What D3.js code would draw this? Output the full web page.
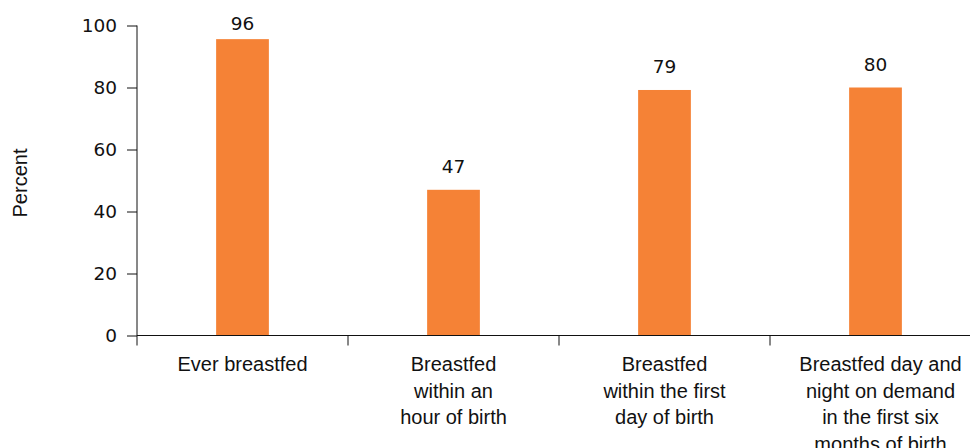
<!DOCTYPE html>
<html>
<head>
<meta charset="utf-8">
<script src="https://cdn.jsdelivr.net/npm/d3@7"></script>
<style>
  html, body { margin: 0; padding: 0; background: #fff; }
  svg { display: block; }
  text { font-family: "Liberation Sans", Arial, sans-serif; fill: #111; }
</style>
</head>
<body>
<svg id="chart" width="970" height="448"></svg>
<script>
const categories = [
  "Ever breastfed",
  "Breastfed\nwithin an\nhour of birth",
  "Breastfed\nwithin the first\nday of birth",
  "Breastfed day and\nnight on demand\nin the first six\nmonths of birth"
];
const values = [95.6, 47, 79.2, 80];
const valueLabels = ["96", "47", "79", "80"];
const yTicks = [0, 20, 40, 60, 80, 100];
const yTitle = "Percent";

const svg = d3.select("#chart");
const numFont = "'DejaVu Sans', Verdana, sans-serif";
const x = d3.scaleBand().domain(d3.range(categories.length)).range([137, 137 + 4 * 211]).padding(0);
const y = d3.scaleLinear().domain([0, 100]).range([335.5, 25.5]);

const barW = x.bandwidth() * 0.25;

// bars
svg.append("g").selectAll("rect").data(values).join("rect")
  .attr("x", (d, i) => x(i) + x.bandwidth() / 2 - barW / 2)
  .attr("y", d => y(d))
  .attr("width", barW)
  .attr("height", d => y(0) - y(d))
  .attr("fill", "#F58236");

// y axis
const yAxis = svg.append("g").attr("transform", "translate(137,0)")
  .call(d3.axisLeft(y).tickValues(yTicks).tickSize(10).tickPadding(10).tickFormat(d3.format("d")));
yAxis.select(".domain").remove();
yAxis.selectAll(".tick line").attr("stroke", "#111");
yAxis.selectAll(".tick text").style("font-size", "18.5px").attr("fill", "#111")
  .style("font-family", numFont);
svg.append("line").attr("x1", 137).attr("x2", 137).attr("y1", y(100)).attr("y2", y(0) + 10)
  .attr("stroke", "#111");

// x axis
svg.append("line").attr("x1", 137).attr("x2", 137 + 4 * 211).attr("y1", y(0)).attr("y2", y(0))
  .attr("stroke", "#111");
svg.append("g").selectAll("line").data(d3.range(1, categories.length)).join("line")
  .attr("x1", i => x(i)).attr("x2", i => x(i))
  .attr("y1", y(0)).attr("y2", y(0) + 10)
  .attr("stroke", "#111");

// category labels
const cl = svg.append("g").selectAll("text").data(categories).join("text")
  .attr("text-anchor", "middle")
  .style("font-size", "20px")
  .attr("transform", (d, i) => `translate(${x(i) + x.bandwidth() / 2 + (i === categories.length - 1 ? 5 : 0)},371)`);
cl.selectAll("tspan").data(d => d.split("\n")).join("tspan")
  .attr("x", 0).attr("y", (d, j) => j * 26.7).text(d => d);

// value labels
svg.append("g").selectAll("text").data(values).join("text")
  .attr("text-anchor", "middle")
  .style("font-size", "18.5px")
  .style("font-family", numFont)
  .attr("x", (d, i) => x(i) + x.bandwidth() / 2)
  .attr("y", d => Math.max(y(d) - 17, 30))
  .text((d, i) => valueLabels[i]);

// y title
svg.append("text")
  .attr("transform", "translate(27,183) rotate(-90)")
  .attr("text-anchor", "middle")
  .style("font-size", "20px")
  .text(yTitle);
</script>
</body>
</html>
